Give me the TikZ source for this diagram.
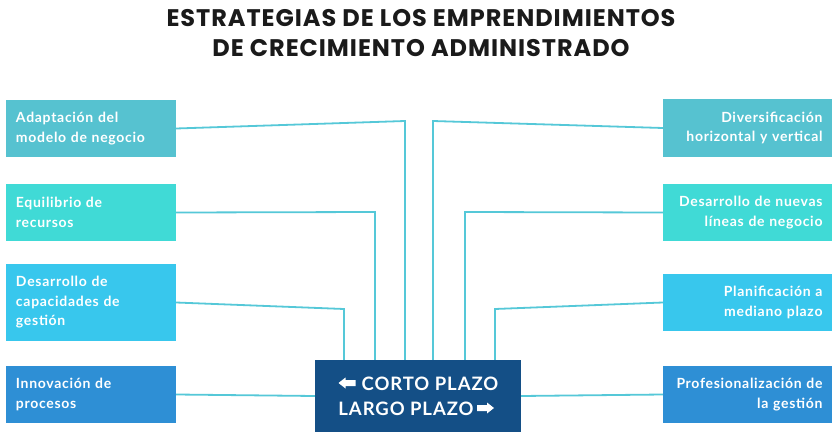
\documentclass[tikz,border=0pt]{standalone}
\usepackage{fontspec}
\setmainfont{Lato}
\newfontfamily\titlefont{Poppins}[UprightFont=* Bold,LetterSpace=4]
\newfontfamily\boxfont{Lato}[UprightFont=* Bold,LetterSpace=5]
\definecolor{cA}{HTML}{56C2D0}
\definecolor{cB}{HTML}{40DAD6}
\definecolor{cC}{HTML}{38C7ED}
\definecolor{cD}{HTML}{2E8FD5}
\definecolor{cCenter}{HTML}{144F86}
\definecolor{cLine}{HTML}{55C8D8}
\definecolor{cTitle}{HTML}{1A1A1A}
\begin{document}
\begin{tikzpicture}[x=1pt,y=-1pt,
  lbox/.style={rectangle, minimum width=170pt, text width=150pt, inner sep=0pt, align=left, text=white, font=\boxfont\fontsize{14}{19.5}\selectfont, anchor=center},
  rbox/.style={lbox, align=right},
  conn/.style={draw=cLine, line width=1.8pt},
  blkarrow/.style={fill=white, draw=none}]
\useasboundingbox (0,0) rectangle (837,441);
\fill[white] (0,0) rectangle (837,441);
\node[font=\titlefont\fontsize{24}{30}\selectfont, text=cTitle, align=center] (title) at (421,33) {ESTRATEGIAS DE LOS EMPRENDIMIENTOS\\DE CRECIMIENTO ADMINISTRADO};
% center
\node[fill=cCenter, minimum width=206pt, minimum height=72pt, inner sep=0pt, text=white, align=center, font=\boxfont\fontsize{18.5}{25}\selectfont] (C) at (418,396) {\hspace*{24pt}CORTO PLAZO\\LARGO PLAZO\kern24pt\null};
\fill[blkarrow, shift={(C.center)}] (-79.5,-13) -- (-72.5,-18.5) -- (-72.5,-16) -- (-62.5,-16) -- (-62.5,-10) -- (-72.5,-10) -- (-72.5,-7.5) -- cycle;
\fill[blkarrow, shift={(C.center)}] (76,12) -- (69,6.5) -- (69,9) -- (59,9) -- (59,15) -- (69,15) -- (69,17.5) -- cycle;
% left boxes
\node[lbox, fill=cA, minimum height=57pt] (L1) at (91,128.5) {Adaptación del\\modelo de negocio};
\node[lbox, fill=cB, minimum height=57pt] (L2) at (91,212.5) {Equilibrio de\\recursos};
\node[lbox, fill=cC, minimum height=77pt] (L3) at (91,302.5) {Desarrollo de\\capacidades de\\gestión};
\node[lbox, fill=cD, minimum height=57pt] (L4) at (91,394.5) {Innovación de\\procesos};
% right boxes
\node[rbox, fill=cA, minimum width=169pt, minimum height=58pt] (R1) at (747.5,128) {Diversificación\\horizontal y vertical};
\node[rbox, fill=cB, minimum width=169pt, minimum height=57pt] (R2) at (747.5,212.5) {Desarrollo de nuevas\\líneas de negocio};
\node[rbox, fill=cC, minimum width=169pt, minimum height=57pt] (R3) at (747.5,302.5) {Planificación a\\mediano plazo};
\node[rbox, fill=cD, minimum width=169pt, minimum height=57pt] (R4) at (747.5,394.5) {Profesionalización de\\la gestión};
% bends
\coordinate (b1) at (405,121);
\coordinate (b2) at (375,212);
\coordinate (b3) at (344,309);
\coordinate (b5) at (433,121);
\coordinate (b6) at (465,212);
\coordinate (b7) at (495,309);
\draw[conn] (L1.east) -- (b1) -- (b1 |- C.north);
\draw[conn] (L2.east) -- (b2) -- (b2 |- C.north);
\draw[conn] (L3.east) -- (b3) -- (b3 |- C.north);
\draw[conn] (L4.east) -- (C.west);
\draw[conn] (R1.west) -- (b5) -- (b5 |- C.north);
\draw[conn] (R2.west) -- (b6) -- (b6 |- C.north);
\draw[conn] (R3.west) -- (b7) -- (b7 |- C.north);
\draw[conn] (R4.west) -- (C.east);
\end{tikzpicture}
\end{document}
